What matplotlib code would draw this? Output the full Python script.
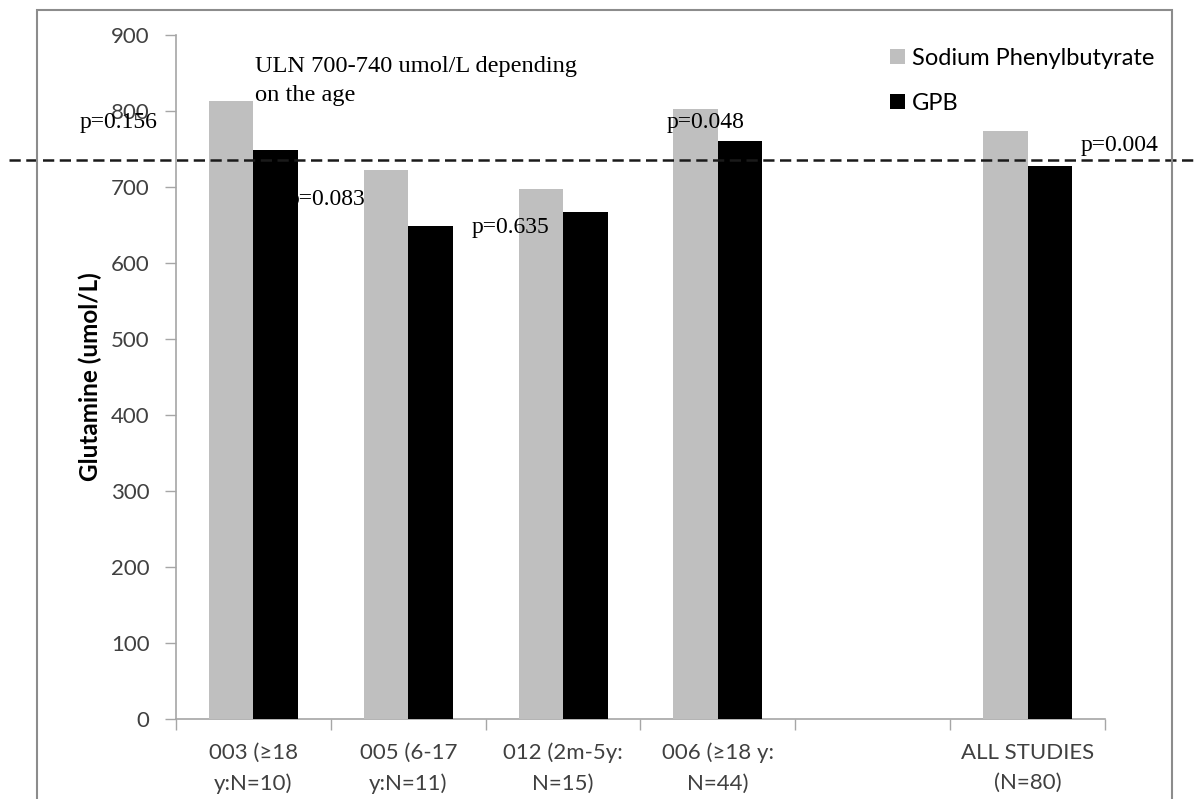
import numpy as np
import matplotlib
matplotlib.use("Agg")
import matplotlib.pyplot as plt
from matplotlib.patches import Patch, Rectangle

# Glutamine levels by study, two treatments
categories = ["003 (\u226518\ny:N=10)", "005 (6-17\ny:N=11)", "012 (2m-5y:\nN=15)",
              "006 (\u226518 y:\nN=44)", "", "ALL STUDIES\n(N=80)"]
sodium_pb = [813, 722, 697, 803, np.nan, 774]
gpb = [749, 649, 667, 760, np.nan, 727]
p_labels = ["p=0.156", "p=0.083", "p=0.635", "p=0.048", "p=0.004"]
uln_value = 735
yticks = [0, 100, 200, 300, 400, 500, 600, 700, 800, 900]

sans = ["Lato", "DejaVu Sans"]
serif = ["Liberation Serif", "DejaVu Serif"]
tick_color = "#404040"

fig = plt.figure(figsize=(11.98, 7.99), dpi=100)
ax = fig.add_axes([176 / 1198, 1 - 719 / 799, 929 / 1198, 684 / 799])

x = np.arange(len(categories))
w = 0.287
ax.bar(x - w / 2, sodium_pb, w, color="#bfbfbf", zorder=3, label="Sodium Phenylbutyrate")
ax.bar(x + w / 2, gpb, w, color="#000000", zorder=3, label="GPB")

ax.set_xlim(-0.5, len(categories) - 0.5)
ax.set_ylim(0, 900)

# y axis
ax.set_yticks(yticks)
ax.set_yticklabels([str(v) for v in yticks], fontfamily=sans, fontsize=16, color=tick_color)
ax.tick_params(axis="y", length=8, width=1, color="#a6a6a6", pad=11)

# x axis: tick marks between categories, labels centred under each category
ax.set_xticks(np.arange(len(categories) + 1) - 0.5)
ax.set_xticklabels([])
ax.tick_params(axis="x", which="major", length=8, width=1, color="#a6a6a6", direction="out")
ax.set_xticks(x, minor=True)
ax.set_xticklabels(categories, minor=True, fontfamily=sans, fontsize=16, color=tick_color,
                   linespacing=1.65)
ax.tick_params(axis="x", which="minor", length=0, pad=17)

for side in ("top", "right"):
    ax.spines[side].set_visible(False)
for side in ("left", "bottom"):
    ax.spines[side].set_color("#a6a6a6")
    ax.spines[side].set_linewidth(1.2)

ax.set_ylabel("Glutamine (umol/L)", fontfamily=sans, fontsize=17.5, fontweight="bold",
              color="#000000", labelpad=6)

# upper limit of normal
ax.axhline(uln_value, xmin=-0.18, xmax=1.12, color="#1a1a1a", lw=1.8,
           linestyle=(0, (4.5, 2.2)), clip_on=False, zorder=4)
ax.text(0.01, 840, "ULN 700-740 umol/L depending\non the age", fontfamily=serif,
        fontsize=17.6, va="center", ha="left", linespacing=1.5, zorder=5)

# p values
p_pos = [(-1.12, 785), (0.223, 683), (1.41, 647), (2.67, 785), (5.34, 755)]
for (px, py), lab in zip(p_pos, p_labels):
    ax.text(px, py, lab, fontfamily=serif, fontsize=17, va="center", ha="left",
            zorder=2 if lab == "p=0.083" else 5, clip_on=False)

handles = [Patch(facecolor="#bfbfbf", edgecolor="none"), Patch(facecolor="#000000", edgecolor="none")]
ax.legend(handles, ["Sodium Phenylbutyrate", "GPB"], loc="upper left",
          bbox_to_anchor=(890 / 1198, 1 - 48 / 799), bbox_transform=fig.transFigure,
          frameon=False, prop={"family": sans, "size": 17}, handlelength=0.62,
          handleheight=0.62, handletextpad=0.3, labelspacing=1.0, borderpad=0, borderaxespad=0)

# outer chart frame
fig.add_artist(Rectangle((37 / 1198, -0.02), (1172 - 37) / 1198, 1.02 - 10 / 799,
                         transform=fig.transFigure, fill=False, edgecolor="#8c8c8c", lw=1.5))

fig.savefig("out.png", dpi=100)
